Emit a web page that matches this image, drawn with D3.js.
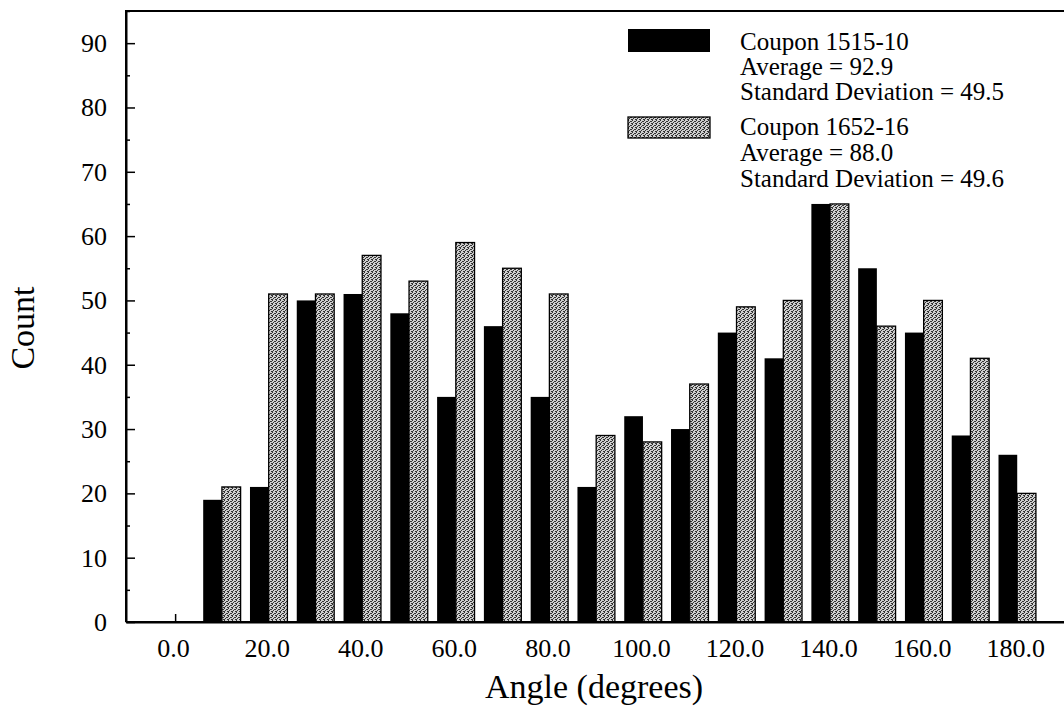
<!DOCTYPE html>
<meta charset="utf-8">
<head>
	<script src="https://d3js.org/d3.v7.min.js"></script>
</head>
<style>
	body {
		margin: 0;
		background: #fff;
	}
	text {
		font-family: "Liberation Serif", "Times New Roman", serif;
		fill: #000;
	}
	.axis text {
		font-size: 26px;
	}
	.axis path, .axis line {
		stroke: #000;
	}
	.axis path {
		stroke-width: 2px;
	}
	.axis line {
		stroke-width: 1.5px;
	}
	.axisTitle {
		font-size: 34px;
	}
	.legend text {
		font-size: 25px;
	}
	.bar1652 {
		stroke: #000;
		stroke-width: 1.3px;
	}
</style>
<body>
<svg id="chart" width="1064" height="713"></svg>
<script>
	// angle bins (upper edge of each 10 degree bin)
	var angles = [10, 20, 30, 40, 50, 60, 70, 80, 90, 100, 110, 120, 130, 140, 150, 160, 170, 180];
	var coupon1515 = [19, 21, 50, 51, 48, 35, 46, 35, 21, 32, 30, 45, 41, 65, 55, 45, 29, 26];
	var coupon1652 = [21, 51, 51, 57, 53, 59, 55, 51, 29, 28, 37, 49, 50, 65, 46, 50, 41, 20];

	var xTicks = [0, 20, 40, 60, 80, 100, 120, 140, 160, 180];
	var yTicks = [0, 10, 20, 30, 40, 50, 60, 70, 80, 90];
	var yMinorTicks = [5, 15, 25, 35, 45, 55, 65, 75, 85, 95];

	var legend1515 = ["Coupon 1515-10", "Average = 92.9", "Standard Deviation = 49.5"];
	var legend1652 = ["Coupon 1652-16", "Average = 88.0", "Standard Deviation = 49.6"];

	var plotLeft = 126, plotRight = 1064, plotTop = 11, plotBottom = 622;

	var svg = d3.select("#chart");

	// dithered grey fill like the printed original
	var pat = svg.append("defs").append("pattern")
		.attr("id", "dither")
		.attr("width", 4)
		.attr("height", 4)
		.attr("patternUnits", "userSpaceOnUse");
	pat.append("rect").attr("width", 4).attr("height", 4).attr("fill", "#cfcfcf");
	[[0, 0], [2, 1], [1, 2], [3, 3], [3, 1], [0, 3]].forEach(function(p) {
		pat.append("rect")
			.attr("x", p[0]).attr("y", p[1])
			.attr("width", 1).attr("height", 1)
			.attr("fill", "#333");
	});

	var x = d3.scaleLinear()
		.domain([-10.5, 190])
		.range([plotLeft, plotRight]);
	var y = d3.scaleLinear()
		.domain([0, 95])
		.range([plotBottom, plotTop]);

	var barW = x(4) - x(0);

	// ticks first so the bars cover them
	var xAxis = d3.axisBottom(x)
		.tickValues(xTicks)
		.tickFormat(d3.format(".1f"))
		.tickSize(-8)
		.tickSizeOuter(0)
		.tickPadding(17);

	var gx = svg.append("g")
		.attr("class", "axis")
		.attr("transform", "translate(0," + plotBottom + ")")
		.call(xAxis);
	gx.selectAll("text").attr("dx", "-2");

	// bars
	svg.append("g").selectAll("rect")
		.data(angles)
		.join("rect")
		.attr("x", function(d) { return x(d) - barW; })
		.attr("y", function(d, i) { return y(coupon1515[i]); })
		.attr("width", barW)
		.attr("height", function(d, i) { return y(0) - y(coupon1515[i]); })
		.attr("fill", "#000");

	svg.append("g").selectAll("rect")
		.data(angles)
		.join("rect")
		.attr("class", "bar1652")
		.attr("x", function(d) { return x(d); })
		.attr("y", function(d, i) { return y(coupon1652[i]); })
		.attr("width", barW)
		.attr("height", function(d, i) { return y(0) - y(coupon1652[i]); })
		.attr("fill", "url(#dither)");

	// y axis with inward ticks
	var yAxis = d3.axisLeft(y)
		.tickValues(yTicks)
		.tickSize(-9)
		.tickSizeOuter(0)
		.tickPadding(19);

	svg.append("g")
		.attr("class", "axis")
		.attr("transform", "translate(" + plotLeft + ",0)")
		.call(yAxis);

	svg.append("g")
		.attr("class", "axis")
		.attr("transform", "translate(" + plotLeft + ",0)")
		.call(d3.axisLeft(y).tickValues(yMinorTicks).tickSize(-4).tickSizeOuter(0).tickFormat(""))
		.select(".domain").remove();

	// redraw base line and frame
	svg.append("line")
		.attr("x1", plotLeft).attr("x2", plotRight)
		.attr("y1", plotBottom).attr("y2", plotBottom)
		.attr("stroke", "#000").attr("stroke-width", 2);
	svg.append("line")
		.attr("x1", plotLeft - 1).attr("x2", plotRight)
		.attr("y1", plotTop).attr("y2", plotTop)
		.attr("stroke", "#000").attr("stroke-width", 2);
	svg.append("line")
		.attr("x1", plotLeft).attr("x2", plotLeft)
		.attr("y1", plotTop).attr("y2", plotBottom)
		.attr("stroke", "#000").attr("stroke-width", 2);

	// axis titles
	svg.append("text")
		.attr("class", "axisTitle")
		.attr("x", 594)
		.attr("y", 698)
		.attr("text-anchor", "middle")
		.text("Angle (degrees)");

	svg.append("text")
		.attr("class", "axisTitle")
		.attr("transform", "translate(34,328) rotate(-90)")
		.attr("text-anchor", "middle")
		.text("Count");

	// legend
	var legend = svg.append("g").attr("class", "legend");

	legend.append("rect")
		.attr("x", 628).attr("y", 29)
		.attr("width", 82).attr("height", 23)
		.attr("fill", "#000");
	legend.append("rect")
		.attr("x", 628).attr("y", 117)
		.attr("width", 82).attr("height", 21)
		.attr("fill", "url(#dither)")
		.attr("stroke", "#000")
		.attr("stroke-width", 1.3);

	legend.selectAll("text.l1")
		.data(legend1515)
		.join("text")
		.attr("class", "l1")
		.attr("x", 740)
		.attr("y", function(d, i) { return 50 + i * 25; })
		.text(function(d) { return d; });

	legend.selectAll("text.l2")
		.data(legend1652)
		.join("text")
		.attr("class", "l2")
		.attr("x", 740)
		.attr("y", function(d, i) { return 135 + i * 26; })
		.text(function(d) { return d; });
</script>
</body>
